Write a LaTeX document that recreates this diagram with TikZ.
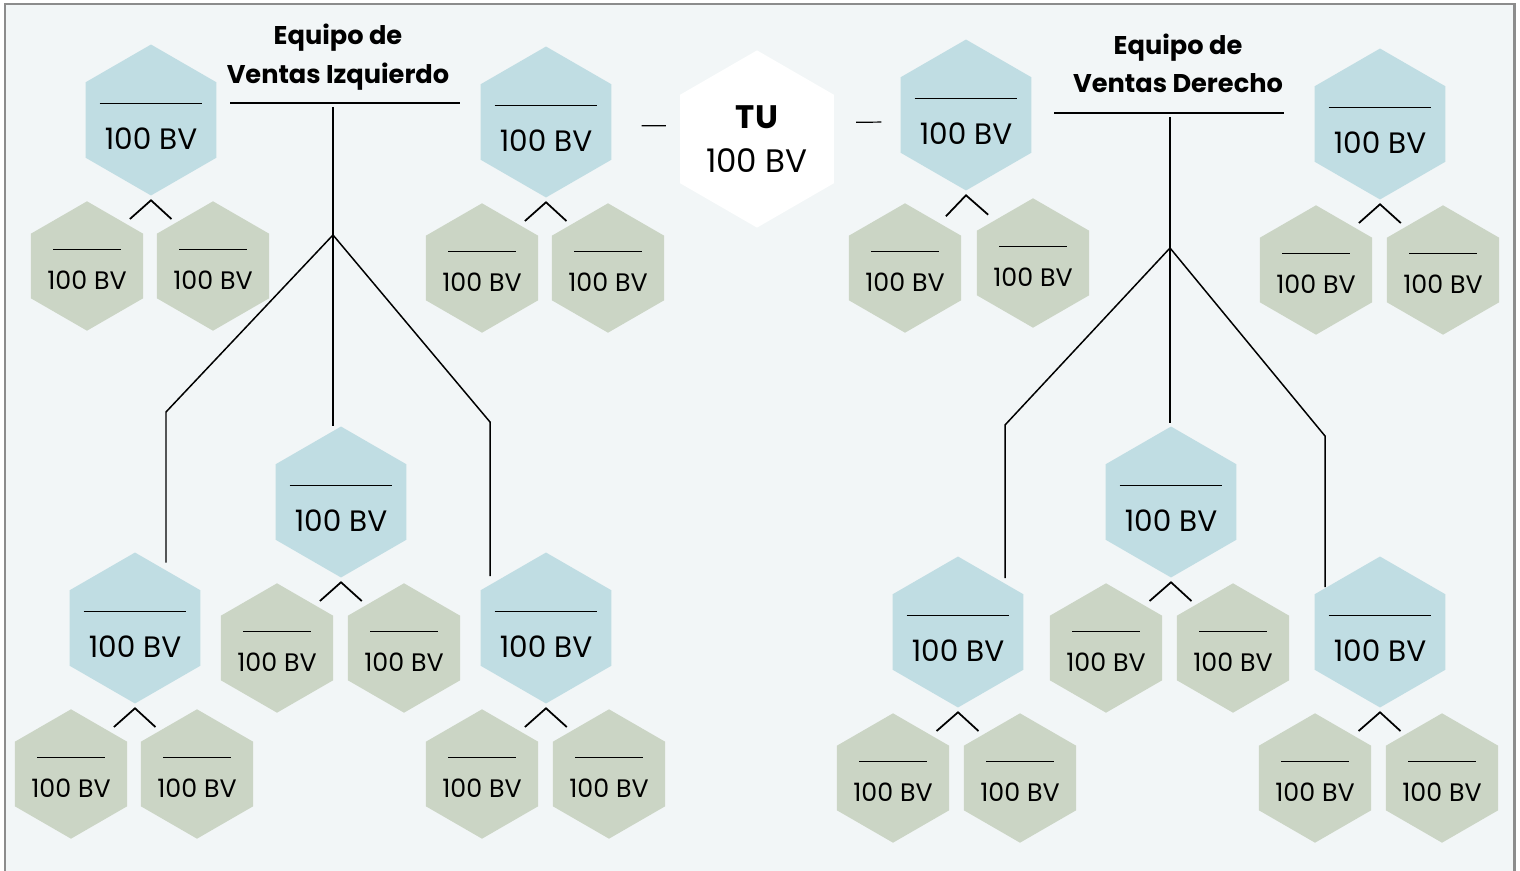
\documentclass[tikz,border=0pt]{standalone}
\usepackage{fontspec}
\setmainfont{Poppins}
\usetikzlibrary{shapes.geometric, calc}
\definecolor{HexBlue}{HTML}{C0DDE3}
\definecolor{HexGreen}{HTML}{CBD5C5}
\definecolor{PanelBg}{HTML}{F2F6F7}
\definecolor{FrameGray}{HTML}{8C8C8C}

\begin{document}
\begin{tikzpicture}[
        x=0.02cm, y=-0.02cm,
        hexa/.style={
            regular polygon, regular polygon sides=6, shape border rotate=30,
            inner xsep=0pt
        },
        lead/.style={
            hexa, fill=HexBlue, minimum size=85.6pt,
            text height=34pt, text depth=0pt, inner ysep=-14pt,
            font=\fontsize{16.8}{20}\selectfont,
            path picture={\draw[line width=0.6pt] ([yshift=9.6pt]path picture bounding box.center) +(-29.2pt,0pt) -- +(29.2pt,0pt);}
        },
        member/.style={
            hexa, fill=HexGreen, minimum size=73.1pt,
            text height=26.4pt, text depth=0pt, inner ysep=-10pt,
            font=\fontsize{14.4}{18}\selectfont,
            path picture={\draw[line width=0.6pt] ([yshift=9.4pt]path picture bounding box.center) +(-19.3pt,0pt) -- +(19.3pt,0pt);}
        },
        you/.style={hexa, inner ysep=0pt, fill=white, minimum size=100.9pt, align=center, font=\fontsize{18.5}{25}\selectfont},
        title/.style={align=center, font=\fontsize{14.6}{21.8}\selectfont\bfseries},
        rule/.style={line width=0.6pt},
        stem/.style={line width=0.85pt},
        fork/.style={line width=1pt},
        tie/.style={line width=0.7pt}
    ]

    \useasboundingbox (0,0) rectangle (1520,871);
    % Panel
    \fill[PanelBg] (5,4) rectangle (1514,871);
    \draw[FrameGray, line width=1.7pt] (5,871) -- (5,4) -- (1514,4) -- (1514,871);

    % You
    \node (tu) [you] at (757,139) {{\bfseries TU}\\100 BV};

    % Titles
    \node (lteam) [title] at (338,57) {Equipo de\\Ventas Izquierdo};
    \node (rteam) [title] at (1178,63) {Equipo de\\Ventas Derecho};
    \draw[rule] (230,103) -- (460,103);
    \draw[rule] (1054,113) -- (1284,113);

    % Left team
    \node (bl1) [lead] at (151,120) {100 BV};
    \node (gl1a) [member] at (87,266) {100 BV};
    \node (gl1b) [member] at (213,266) {100 BV};

    \node (bl2) [lead] at (546,122) {100 BV};
    \node (gl2a) [member] at (482,268) {100 BV};
    \node (gl2b) [member] at (608,268) {100 BV};

    \node (bl3) [lead] at (135,628) {100 BV};
    \node (gl3a) [member] at (71,774) {100 BV};
    \node (gl3b) [member] at (197,774) {100 BV};

    \node (bl4) [lead] at (341,502) {100 BV};
    \node (gl4a) [member] at (277,648) {100 BV};
    \node (gl4b) [member] at (404,648) {100 BV};

    \node (bl5) [lead] at (546,628) {100 BV};
    \node (gl5a) [member] at (482,774) {100 BV};
    \node (gl5b) [member] at (609,774) {100 BV};

    % Right team
    \node (br1) [lead] at (966,115) {100 BV};
    \node (gr1a) [member] at (905,268) {100 BV};
    \node (gr1b) [member] at (1033,263) {100 BV};

    \node (br2) [lead] at (1380,124) {100 BV};
    \node (gr2a) [member] at (1316,270) {100 BV};
    \node (gr2b) [member] at (1443,270) {100 BV};

    \node (br3) [lead] at (958,632) {100 BV};
    \node (gr3a) [member] at (893,778) {100 BV};
    \node (gr3b) [member] at (1020,778) {100 BV};

    \node (br4) [lead] at (1171,502) {100 BV};
    \node (gr4a) [member] at (1106,648) {100 BV};
    \node (gr4b) [member] at (1233,648) {100 BV};

    \node (br5) [lead] at (1380,632) {100 BV};
    \node (gr5a) [member] at (1315,778) {100 BV};
    \node (gr5b) [member] at (1442,778) {100 BV};

    % Ties to TU
    \draw[tie, shorten <=8pt, shorten >=17pt] ([yshift=7.5pt]tu.west) -- ([yshift=-2pt]bl2.east);
    \draw[tie, shorten <=12.5pt, shorten >=10.8pt] ([yshift=9.5pt]tu.east) -- ([yshift=-4pt]br1.west);

    % Left tree
    \coordinate (lsplit) at (333,235);
    \coordinate (lbendl) at (166,412);
    \coordinate (lbendr) at (490,422);
    \draw[stem] (lsplit |- 0,107) -- (lsplit |- bl4.north);
    \draw[stem] (lsplit) -- (lbendl) -- ([yshift=-6pt]lbendl |- bl3.north);
    \draw[stem] (lsplit) -- (lbendr) -- ([yshift=-13.6pt]lbendr |- bl5.north);

    % Right tree
    \coordinate (rsplit) at (1170,248);
    \coordinate (rbendl) at (1005,425);
    \coordinate (rbendr) at (1325,436);
    \draw[stem] (rsplit |- 0,117) -- ([yshift=2pt]rsplit |- br4.north);
    \draw[stem] (rsplit) -- (rbendl) -- ([yshift=-12.5pt]rbendl |- br3.north);
    \draw[stem] (rsplit) -- (rbendr) -- ([yshift=-17.6pt]rbendr |- br5.north);

    % Forks to members
    \draw[fork] ($(bl1.south)!0.33!(gl1a.center)$) -- ([yshift=-2.5pt]bl1.south) -- ($(bl1.south)!0.33!(gl1b.center)$);
    \draw[fork] ($(bl2.south)!0.33!(gl2a.center)$) -- ([yshift=-2.5pt]bl2.south) -- ($(bl2.south)!0.33!(gl2b.center)$);
    \draw[fork] ($(bl3.south)!0.33!(gl3a.center)$) -- ([yshift=-2.5pt]bl3.south) -- ($(bl3.south)!0.33!(gl3b.center)$);
    \draw[fork] ($(bl4.south)!0.33!(gl4a.center)$) -- ([yshift=-2.5pt]bl4.south) -- ($(bl4.south)!0.33!(gl4b.center)$);
    \draw[fork] ($(bl5.south)!0.33!(gl5a.center)$) -- ([yshift=-2.5pt]bl5.south) -- ($(bl5.south)!0.33!(gl5b.center)$);
    \draw[fork] ($(br1.south)!0.33!(gr1a.center)$) -- ([yshift=-2.5pt]br1.south) -- ($(br1.south)!0.33!(gr1b.center)$);
    \draw[fork] ($(br2.south)!0.33!(gr2a.center)$) -- ([yshift=-2.5pt]br2.south) -- ($(br2.south)!0.33!(gr2b.center)$);
    \draw[fork] ($(br3.south)!0.33!(gr3a.center)$) -- ([yshift=-2.5pt]br3.south) -- ($(br3.south)!0.33!(gr3b.center)$);
    \draw[fork] ($(br4.south)!0.33!(gr4a.center)$) -- ([yshift=-2.5pt]br4.south) -- ($(br4.south)!0.33!(gr4b.center)$);
    \draw[fork] ($(br5.south)!0.33!(gr5a.center)$) -- ([yshift=-2.5pt]br5.south) -- ($(br5.south)!0.33!(gr5b.center)$);

\end{tikzpicture}
\end{document}
